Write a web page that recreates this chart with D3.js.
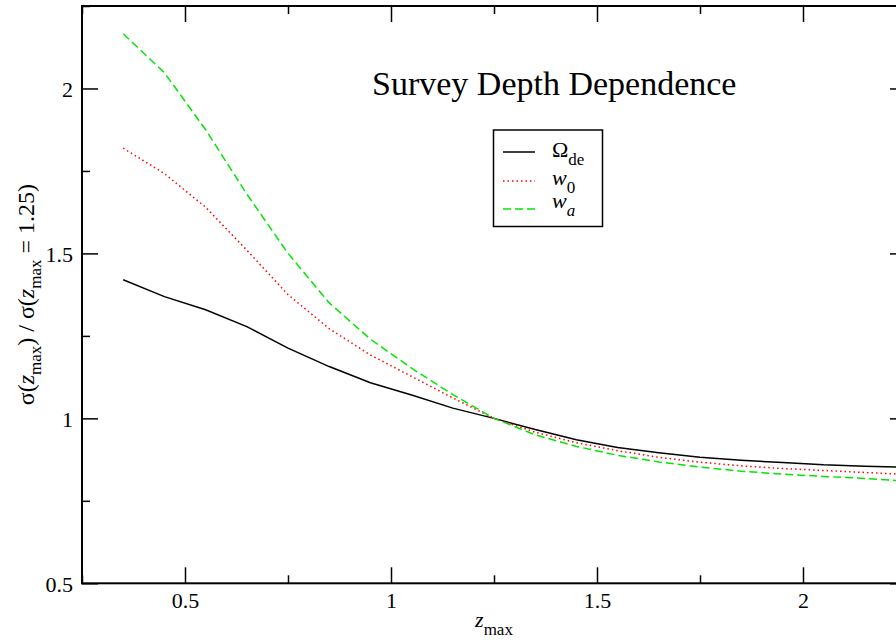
<!DOCTYPE html>
<html>
<head>
<meta charset="utf-8">
<script src="https://cdn.jsdelivr.net/npm/d3@7"></script>
<style>
  html, body { margin: 0; padding: 0; background: #fff; }
  svg { display: block; }
  text { font-family: "Liberation Serif", "Times New Roman", serif; fill: #000; }
</style>
</head>
<body>
<svg id="chart" width="896" height="642"></svg>
<script>
// Survey depth (z_max) sampled values
const zMax = [0.35, 0.45, 0.55, 0.65, 0.75, 0.85, 0.95, 1.05, 1.15, 1.25,
              1.35, 1.45, 1.55, 1.65, 1.75, 1.85, 1.95, 2.05, 2.15, 2.25];

// sigma(z_max) / sigma(z_max = 1.25) for each parameter
const omegaDE = [1.420, 1.369, 1.329, 1.278, 1.213, 1.157, 1.108, 1.071, 1.031, 1.000,
                 0.966, 0.935, 0.912, 0.896, 0.882, 0.873, 0.866, 0.859, 0.855, 0.852];
const w0      = [1.819, 1.742, 1.640, 1.510, 1.375, 1.272, 1.192, 1.127, 1.062, 1.000,
                 0.958, 0.926, 0.902, 0.882, 0.867, 0.856, 0.848, 0.842, 0.836, 0.830];
const wa      = [2.166, 2.048, 1.875, 1.680, 1.500, 1.350, 1.240, 1.152, 1.072, 1.000,
                 0.950, 0.915, 0.888, 0.868, 0.852, 0.840, 0.831, 0.824, 0.818, 0.810];

const xMajorTicks = [0.5, 1, 1.5, 2];
const xMinorTicks = [0.25, 0.75, 1.25, 1.75, 2.25];
const yMajorTicks = [0.5, 1, 1.5, 2];
const yMinorTicks = [0.75, 1.25, 1.75, 2.25];

const series = [
  { name: "Ω", sub: "de", italic: false, values: omegaDE, color: "#000000", dash: null },
  { name: "w", sub: "0",  italic: true,  subItalic: false, values: w0, color: "#ff0000", dash: "1.5,3" },
  { name: "w", sub: "a",  italic: true,  subItalic: true,  values: wa, color: "#00e600", dash: "8,4" }
];

const svg = d3.select("#chart");
const plotL = 82, plotT = 6, plotR = 906, plotB = 583.3;

const x = d3.scaleLinear().domain([0.25, 2.25]).range([plotL, plotR]);
const y = d3.scaleLinear().domain([0.5, 2.25]).range([plotB, plotT]);

const FS = 22, SUB = 16;

// axes: inward ticks, mirrored on top and right
function styleAxis(g) {
  g.attr("font-family", null).attr("font-size", null);
  g.select(".domain").remove();
  g.selectAll(".tick line").attr("stroke", "#000").attr("stroke-width", 1.5);
  g.selectAll(".tick text")
    .style("font-family", '"Liberation Serif", "Times New Roman", serif')
    .style("font-size", FS + "px").attr("fill", "#000");
}

svg.append("g").attr("transform", `translate(0,${plotB})`)
  .call(d3.axisBottom(x).tickValues(xMajorTicks).tickSizeInner(-16).tickSizeOuter(0)
        .tickPadding(9).tickFormat(d3.format("")))
  .call(styleAxis);
svg.append("g").attr("transform", `translate(0,${plotB})`)
  .call(d3.axisBottom(x).tickValues(xMinorTicks).tickSizeInner(-8).tickSizeOuter(0).tickFormat(""))
  .call(styleAxis);
svg.append("g").attr("transform", `translate(0,${plotT})`)
  .call(d3.axisTop(x).tickValues(xMajorTicks).tickSizeInner(-16).tickSizeOuter(0).tickFormat(""))
  .call(styleAxis);
svg.append("g").attr("transform", `translate(0,${plotT})`)
  .call(d3.axisTop(x).tickValues(xMinorTicks).tickSizeInner(-8).tickSizeOuter(0).tickFormat(""))
  .call(styleAxis);

svg.append("g").attr("transform", `translate(${plotL},0)`)
  .call(d3.axisLeft(y).tickValues(yMajorTicks).tickSizeInner(-16).tickSizeOuter(0)
        .tickPadding(9).tickFormat(d3.format("")))
  .call(styleAxis)
  .call(g => g.selectAll(".tick text").attr("dy", "0.38em"));
svg.append("g").attr("transform", `translate(${plotL},0)`)
  .call(d3.axisLeft(y).tickValues(yMinorTicks).tickSizeInner(-8).tickSizeOuter(0).tickFormat(""))
  .call(styleAxis);
svg.append("g").attr("transform", `translate(${plotR},0)`)
  .call(d3.axisRight(y).tickValues(yMajorTicks).tickSizeInner(-16).tickSizeOuter(0).tickFormat(""))
  .call(styleAxis);
svg.append("g").attr("transform", `translate(${plotR},0)`)
  .call(d3.axisRight(y).tickValues(yMinorTicks).tickSizeInner(-8).tickSizeOuter(0).tickFormat(""))
  .call(styleAxis);

// frame
svg.append("rect")
  .attr("x", plotL).attr("y", plotT)
  .attr("width", plotR - plotL).attr("height", plotB - plotT)
  .attr("fill", "none").attr("stroke", "#000").attr("stroke-width", 2);

// curves
const line = d3.line().x(d => x(d[0])).y(d => y(d[1]));
series.forEach(s => {
  svg.append("path")
    .datum(zMax.map((z, i) => [z, s.values[i]]))
    .attr("d", line)
    .attr("fill", "none")
    .attr("stroke", s.color)
    .attr("stroke-width", 1.5)
    .attr("stroke-dasharray", s.dash);
});

// title
svg.append("text")
  .attr("x", 372).attr("y", 95)
  .style("font-size", "34px")
  .text("Survey Depth Dependence");

// x label
const xl = svg.append("text")
  .attr("x", (plotL + plotR) / 2).attr("y", 627)
  .attr("text-anchor", "middle")
  .style("font-size", "22px");
xl.append("tspan").style("font-style", "italic").text("z");
xl.append("tspan").attr("dy", 8).style("font-size", "17px").text("max");

// y label
const yl = svg.append("text")
  .attr("transform", `translate(34,${(plotT + plotB) / 2}) rotate(-90)`)
  .attr("text-anchor", "middle")
  .style("font-size", "24px");
yl.append("tspan").text("σ(");
yl.append("tspan").style("font-style", "italic").text("z");
yl.append("tspan").attr("dy", 7).style("font-size", "17px").text("max");
yl.append("tspan").attr("dy", -7).text(") / σ(");
yl.append("tspan").style("font-style", "italic").text("z");
yl.append("tspan").attr("dy", 7).style("font-size", "17px").text("max");
yl.append("tspan").attr("dy", -7).text(" = 1.25)");

// legend
const legend = svg.append("g");
legend.append("rect")
  .attr("x", 493.5).attr("y", 130)
  .attr("width", 109).attr("height", 96.5)
  .attr("fill", "#fff").attr("stroke", "#000").attr("stroke-width", 1.5);
const rowY = [152, 181, 209];
const textOff = [5, 4, -1];
series.forEach((s, i) => {
  const ry = rowY[i];
  legend.append("line")
    .attr("x1", 503).attr("x2", 535)
    .attr("y1", ry).attr("y2", ry)
    .attr("stroke", s.color).attr("stroke-width", 1.5)
    .attr("stroke-dasharray", s.dash);
  const t = legend.append("text")
    .attr("x", 552).attr("y", ry + textOff[i])
    .style("font-size", "22px");
  t.append("tspan").style("font-style", s.italic ? "italic" : "normal").text(s.name);
  t.append("tspan").attr("dy", 8).style("font-size", "17px")
    .style("font-style", s.subItalic ? "italic" : "normal").text(s.sub);
});
</script>
</body>
</html>
